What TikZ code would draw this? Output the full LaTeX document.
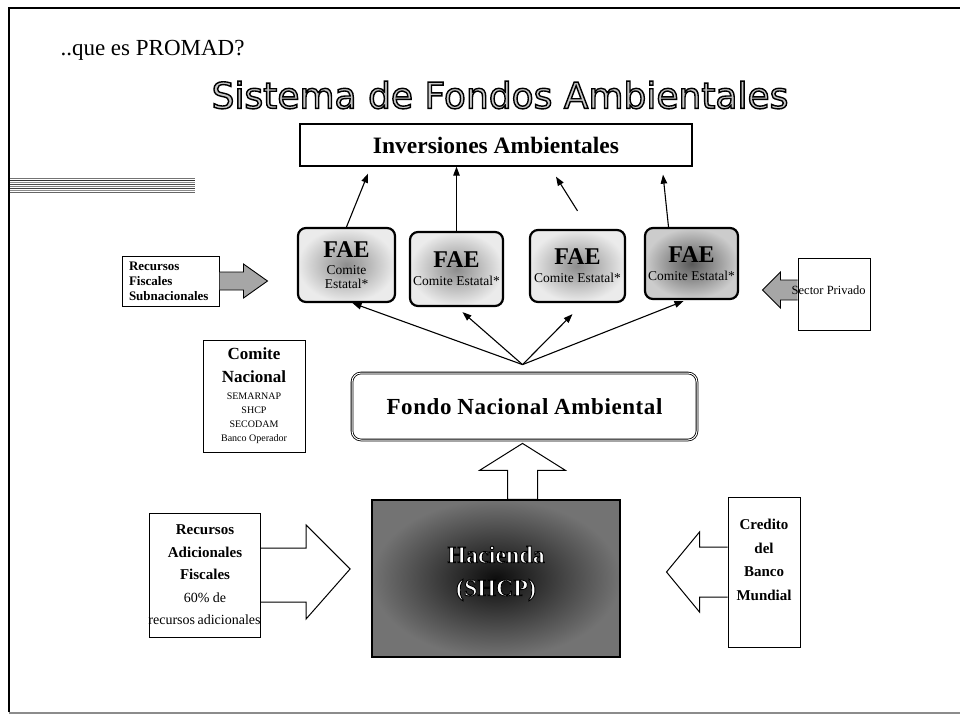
\documentclass[tikz,border=0pt]{standalone}
\usepackage{fontspec}
\setmainfont{Liberation Serif}
\newfontfamily\titlefont{DejaVu Sans}
\usetikzlibrary{arrows.meta,calc}
\tikzset{
  faebox/.style={draw, line width=2.2pt, rounded corners=8pt, shading=radial,
    inner color=black!45, outer color=black!8, align=center, inner sep=1pt,
    font=\fontsize{13.5}{14}\selectfont},
  plainbox/.style={draw, line width=1pt, fill=white, align=center, inner sep=2pt},
  blockarrow/.style={draw, line width=1pt, fill=white, line join=miter},
  grayarrow/.style={draw, line width=0.9pt, fill=black!35},
  thinarrow/.style={line width=1.1pt, -{Triangle[length=9pt,width=6.5pt]}},
}
\newcommand{\outl}[3]{{\color{#1}\special{pdf:literal direct 2 Tr #2 w 0 G}#3\special{pdf:literal direct 0 Tr 0.3985 w}}}
\newcommand{\faetit}{\bfseries\fontsize{24}{24}\selectfont}
\newcommand{\faesub}{\fontsize{13.5}{14}\selectfont}
\newcommand{\cbig}{\bfseries\fontsize{17}{19}\selectfont}
\newcommand{\csmall}{\fontsize{10}{11}\selectfont}
\newcommand{\rbold}{\bfseries\fontsize{15}{17}\selectfont}
\newcommand{\rreg}{\fontsize{14}{17}\selectfont}
\begin{document}
\begin{tikzpicture}[x=1pt,y=-1pt]
\useasboundingbox (0,0) rectangle (960,721);
% frame
\draw[line width=2pt] (9,712) -- (9,8) -- (960,8);
\draw[line width=1.5pt, black!45] (9,713) -- (960,713);
\foreach \yy/\gg in {178/55,180/80,182/45,184/70,186/50,188/75,190/45,192/60}
  \draw[line width=0.9pt, black!\gg] (10,\yy) -- (195,\yy);

% titles
\node[anchor=west, font=\fontsize{23}{25}\selectfont] (promad) at (57,50) {..que es PROMAD?};
\node[font=\titlefont\fontsize{36}{40}\selectfont] (title) at (500,95)
  {\outl{black!22}{1.4}{Sistema de Fondos Ambientales}};

% top box
\node[plainbox, line width=1.3pt, minimum width=392pt, minimum height=42pt,
  font=\bfseries\fontsize{23.5}{24}\selectfont] (inv) at (496,145) {Inversiones Ambientales};

% FAE boxes
\node[faebox, minimum width=97pt, minimum height=74pt] (fae1) at (346.5,265)
  {{\faetit FAE}\\[3pt]Comite\\[0pt]Estatal*};
\node[faebox, minimum width=93pt, minimum height=74pt] (fae2) at (456.5,269)
  {{\faetit FAE}\\[4pt]Comite Estatal*};
\node[faebox, minimum width=95pt, minimum height=72pt] (fae3) at (577.5,266)
  {{\faetit FAE}\\[4pt]Comite Estatal*};
\node[faebox, inner color=black!65, outer color=black!20, minimum width=93pt, minimum height=71pt] (fae4) at (691.5,263.5)
  {{\faetit FAE}\\[4pt]Comite Estatal*};

% arrows FAE -> Inversiones
\draw[thinarrow] (fae1.north) -- ($(inv.south)+(-128,7)$);
\draw[thinarrow] (fae2.north) -- (fae2.north |- inv.south);
\draw[thinarrow] ($(fae3.north)+(0,-18)$) -- ($(inv.south)+(60,10)$);
\draw[thinarrow] ($(fae4.north)+(-23,0)$) -- ($(inv.south)+(167,8)$);

% side boxes (top)
\node[plainbox, align=left, inner xsep=7pt, text width=83pt, minimum height=50pt,
  font=\bfseries\fontsize{13}{15}\selectfont] (recfis) at (170.5,281)
  {Recursos\\Fiscales\\Subnacionales};
\draw[grayarrow] ($(recfis.east)+(0,-9)$) -- ++(24,0) -- ++(0,-8)
  -- ($(recfis.east)+(48,0)$) -- ($(recfis.east)+(24,17)$) -- ++(0,-8)
  -- ($(recfis.east)+(0,9)$);
\node[plainbox, minimum width=72pt, minimum height=72pt] (sector) at (834,294) {};
\draw[grayarrow] ($(sector.west)+(0,-14)$) -- ++(-17,0) -- ++(0,-8)
  -- ($(sector.west)+(-35,-4)$) -- ($(sector.west)+(-17,14)$) -- ++(0,-8)
  -- ($(sector.west)+(0,6)$);
\node[anchor=west, inner sep=0pt, font=\fontsize{12.5}{13}\selectfont] (sectortxt)
  at ($(sector.west)+(-6,-4)$) {Sector Privado};

% Comite Nacional
\node[plainbox, minimum width=102pt, minimum height=112pt, font=\fontsize{10}{11}\selectfont] (comite) at (254,396)
  {{\cbig Comite}\\[10pt]{\cbig Nacional}\\[6pt]SEMARNAP\\[3pt]SHCP\\[3pt]SECODAM\\[3pt]Banco Operador};

% Fondo Nacional
\node[draw, double, double distance=1pt, line width=0.8pt, rounded corners=9pt, fill=white,
  minimum width=345pt, minimum height=67pt,
  font=\bfseries\fontsize{23}{24}\selectfont] (fondo) at (524.5,406.5)
  {F\kern0.6pt o\kern0.6pt n\kern0.6pt d\kern0.6pt o N\kern0.6pt a\kern0.6pt c\kern0.6pt i\kern0.6pt o\kern0.6pt n\kern0.6pt a\kern0.6pt l A\kern0.6pt m\kern0.6pt b\kern0.6pt i\kern0.6pt e\kern0.6pt n\kern0.6pt t\kern0.6pt a\kern0.6pt l};

% arrows Fondo -> FAE
\coordinate (apex) at ($(fondo.north)+(-2,-8)$);
\draw[thinarrow] (apex) -- ($(fae1.south)+(6,0)$);
\draw[thinarrow] (apex) -- ($(fae2.south)+(6,5)$);
\draw[thinarrow] (apex) -- ($(fae3.south)+(-5,11)$);
\draw[thinarrow] (apex) -- ($(fae4.south)+(-8,1)$);

% Hacienda
\node[draw, line width=1.3pt, shading=radial, inner color=black!95, outer color=black!55,
  minimum width=248pt, minimum height=157pt] (hacienda) at (496,578.5) {};
\node[font=\bfseries\fontsize{24}{33}\selectfont, align=center] (haciendatxt)
  at ($(hacienda.center)+(0,-5)$)
  {\outl{white}{0.9}{Hacienda}\\\outl{white}{0.9}{(SHCP)}};

% up block arrow
\coordinate (upt) at ($(fondo.south)+(-2,3)$);
\draw[blockarrow] (upt) -- ++(43,27) -- ++(-28,0)
  -- ($(upt |- hacienda.north)+(15,0)$) -- ++(-30,0)
  -- ($(upt)+(-15,27)$) -- ++(-28,0) -- cycle;

% Recursos Adicionales
\node[plainbox, inner sep=0pt, minimum width=106pt, minimum height=124pt,
  font=\fontsize{15}{17}\selectfont] (recad) at (205,575)
  {{\rbold Recursos}\\[5.5pt]{\rbold Adicionales}\\[5.5pt]{\rbold Fiscales}\\[5.5pt]{\rreg 60\% de}\\[5.5pt]{\rreg\kern-1pt recursos\kern-1pt\ adicionales}};
\draw[blockarrow] ($(recad.east)+(0,-27)$) -- ++(45,0) -- ++(0,-23)
  -- ($(recad.east)+(89,-6)$) -- ($(recad.east)+(45,44)$) -- ++(0,-17)
  -- ($(recad.east)+(0,27)$);

% Credito
\node[plainbox, minimum width=72pt, minimum height=150pt] (credito) at (764,572) {};
\node[font=\bfseries\fontsize{15}{23.5}\selectfont, align=center] (creditotxt)
  at ($(credito.center)+(0,-12)$) {Credito\\del\\Banco\\Mundial};
\draw[blockarrow] ($(credito.west)+(0,-25)$) -- ++(-28,0) -- ++(0,-15)
  -- ($(credito.west)+(-61,0)$) -- ($(credito.west)+(-28,40)$) -- ++(0,-15)
  -- ($(credito.west)+(0,25)$);
\end{tikzpicture}
\end{document}
